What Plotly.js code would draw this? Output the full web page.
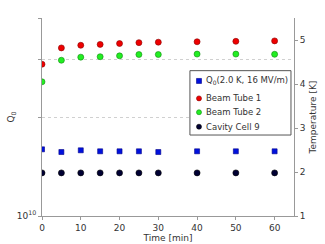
<!DOCTYPE html>
<html><head><meta charset="utf-8">
<script src="https://cdn.plot.ly/plotly-3.0.1.min.js"></script>
<style>html,body{margin:0;padding:0;background:#fff}</style>
</head><body><div id="chart" style="width:325px;height:244px"></div>
<script>
const time = [0, 5, 10, 15, 20, 25, 30, 40, 50, 60];
const q0 = [1.595e10, 1.565e10, 1.584e10, 1.573e10, 1.573e10, 1.573e10, 1.565e10, 1.573e10, 1.573e10, 1.573e10];
const beamTube1 = [4.45, 4.82, 4.88, 4.90, 4.92, 4.94, 4.95, 4.96, 4.97, 4.98];
const beamTube2 = [4.05, 4.54, 4.61, 4.62, 4.64, 4.67, 4.67, 4.68, 4.68, 4.675];
const cavityCell9 = [1.98, 1.98, 1.98, 1.98, 1.98, 1.98, 1.98, 1.98, 1.98, 1.98];
const seriesNames = ['Q<sub>0</sub>(2.0 K, 16 MV/m)', 'Beam Tube 1', 'Beam Tube 2', 'Cavity Cell 9'];
const xTicks = [0, 10, 20, 30, 40, 50, 60];
const q0Ticks = [1e10, 2e10, 3e10, 4e10];
const q0TickText = ['10<sup>10</sup>', '', '', ''];
const tempTicks = [1, 2, 3, 4, 5];

const fam = 'DejaVu Sans, sans-serif';
const font = {family: fam, size: 9, color: '#333'};
const legFont = {family: fam, size: 8.5, color: '#333'};
const fills = ['#0011dd', '#ee0000', '#22ee22', '#000033'];
const edges = ['#000088', '#880000', '#118811', '#000000'];
const symbols = ['square', 'circle', 'circle', 'circle'];
const yvals = [q0, beamTube1, beamTube2, cavityCell9];
const axes = ['y', 'y2', 'y2', 'y2'];

const data = yvals.map((yv, i) => ({
  x: time, y: yv, name: seriesNames[i], mode: 'markers', type: 'scatter', yaxis: axes[i],
  marker: {symbol: symbols[i], size: i === 0 ? 5 : 6, color: fills[i], line: {color: edges[i], width: 0.6}}
}));

// manual compact legend (box, markers, labels)
const legX = 0.587, legX1 = 0.988, legTop = 0.734, legBot = 0.409;
const rowY = [0.682, 0.594, 0.524, 0.451];
const mkX = 0.623, txtX = 0.648;
const shapes = [{type: 'rect', xref: 'paper', yref: 'paper', x0: legX, x1: legX1, y0: legBot, y1: legTop,
  line: {color: '#555', width: 1}, fillcolor: '#fff', layer: 'above'}];
const annotations = [];
seriesNames.forEach((n, i) => {
  shapes.push({type: symbols[i] === 'square' ? 'rect' : 'circle', xref: 'paper', yref: 'paper',
    xsizemode: 'pixel', ysizemode: 'pixel', xanchor: mkX, yanchor: rowY[i],
    x0: -2.5, x1: 2.5, y0: -2.5, y1: 2.5, fillcolor: fills[i], line: {color: edges[i], width: 0.6}, layer: 'above'});
  annotations.push({xref: 'paper', yref: 'paper', x: txtX, y: rowY[i], xanchor: 'left', yanchor: 'middle',
    text: n, showarrow: false, font: legFont, borderpad: 0});
});

const layout = {
  width: 325, height: 244,
  margin: {l: 42, r: 31, t: 18, b: 28},
  paper_bgcolor: '#fff', plot_bgcolor: '#fff',
  font: font,
  showlegend: false,
  shapes: shapes, annotations: annotations,
  xaxis: {range: [0, 65], tickvals: xTicks, showgrid: false, zeroline: false, showline: true,
          linecolor: '#999', linewidth: 1, ticks: 'outside', ticklen: 3, tickcolor: '#999',
          tickfont: font, title: {text: 'Time [min]', font: font, standoff: 2}},
  yaxis: {type: 'log', range: [10, Math.log10(4e10)], tickvals: q0Ticks, ticktext: q0TickText,
          showgrid: true, gridcolor: '#d0d0d0', griddash: 'dot', gridwidth: 1, zeroline: false,
          showline: true, linecolor: '#999', linewidth: 1, ticks: 'outside', ticklen: 3, tickcolor: '#999',
          tickfont: font, title: {text: 'Q<sub>0</sub>', font: font, standoff: 0}},
  yaxis2: {overlaying: 'y', side: 'right', range: [1, 5.5], tickvals: tempTicks, showgrid: false,
           zeroline: false, showline: true, linecolor: '#999', linewidth: 1, ticks: 'outside',
           ticklen: 3, tickcolor: '#999', tickfont: font,
           title: {text: 'Temperature [K]', font: font, standoff: 4}}
};
Plotly.newPlot('chart', data, layout, {displayModeBar: false, staticPlot: true});
</script></body></html>
